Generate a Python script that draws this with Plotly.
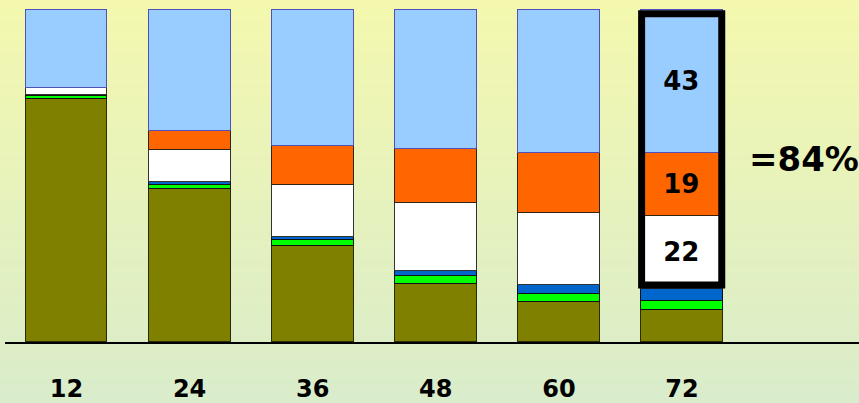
import plotly.graph_objects as go

# ---- data ----
months = ["12", "24", "36", "48", "60", "72"]
olive_vals = [73.3, 46.1, 28.9, 17.4, 12.0, 9.5]
green_vals = [0.7, 1.3, 1.7, 2.4, 2.5, 2.8]
blue_vals = [0.3, 0.7, 1.1, 1.6, 2.8, 3.7]
white_vals = [2.2, 9.6, 15.7, 20.5, 21.6, 22]
orange_vals = [0.0, 5.8, 11.7, 16.3, 18.1, 19]
lightblue_vals = [23.5, 36.5, 40.9, 41.8, 43.0, 43]
highlight_index = 5  # the 72 bar with labelled segments

series = [
    ("olive", olive_vals, "#808000", "#2b2b00", False),
    ("green", green_vals, "#00FF00", "#111111", False),
    ("blue", blue_vals, "#0066CC", "#111111", False),
    ("white", white_vals, "#FFFFFF", "#333333", True),
    ("orange", orange_vals, "#FF6600", "#332211", True),
    ("lightblue", lightblue_vals, "#99CCFF", "#5050B8", True),
]

BAR_W = 0.666
FONT = "DejaVu Sans"
xpos = list(range(len(months)))

fig = go.Figure()
for name, vals, fill, line, labelled in series:
    texts = [""] * len(vals)
    if labelled:
        texts[highlight_index] = f"{vals[highlight_index]:g}"
    fig.add_trace(go.Bar(
        x=xpos, y=vals, name=name, width=BAR_W,
        marker=dict(color=fill, line=dict(color=line, width=1.4)),
        text=texts, textposition="inside", insidetextanchor="middle",
        textfont=dict(family=FONT, size=26, color="black", weight="bold"),
        textangle=0, hoverinfo="skip", showlegend=False,
    ))

# ---- background gradient (style only) ----
top_c = (244, 248, 174)
bot_c = (217, 236, 203)
N = 90
H, MB = 403, 61
PH = H - MB
shapes = []
for i in range(N):
    t = i / (N - 1)
    c = tuple(round(top_c[k] + (bot_c[k] - top_c[k]) * t) for k in range(3))
    ytop_px = H * i / N - 1
    ybot_px = H * (i + 1) / N + 1
    shapes.append(dict(
        type="rect", xref="paper", yref="paper", layer="below",
        x0=-0.02, x1=1.02,
        y0=(PH - ybot_px) / PH, y1=(PH - ytop_px) / PH,
        fillcolor="rgb(%d,%d,%d)" % c, line=dict(width=0),
    ))

# ---- highlight box around labelled segments of last bar ----
base_hl = olive_vals[highlight_index] + green_vals[highlight_index] + blue_vals[highlight_index]
top_hl = base_hl + white_vals[highlight_index] + orange_vals[highlight_index] + lightblue_vals[highlight_index]
hl_sum = white_vals[highlight_index] + orange_vals[highlight_index] + lightblue_vals[highlight_index]
shapes.append(dict(
    type="rect", xref="x", yref="y", layer="above",
    x0=highlight_index - BAR_W / 2 + 0.005, x1=highlight_index + BAR_W / 2 - 0.01,
    y0=base_hl + 1.2, y1=top_hl - 1.1,
    line=dict(color="black", width=7), fillcolor="rgba(0,0,0,0)",
))

fig.update_layout(
    barmode="stack",
    width=859, height=403,
    margin=dict(l=5, r=0, t=0, b=MB, autoexpand=False),
    paper_bgcolor="rgba(0,0,0,0)",
    plot_bgcolor="rgba(0,0,0,0)",
    shapes=shapes,
    bargap=0,
    annotations=[dict(
        x=5.53, y=55, xref="x", yref="y", xanchor="left", yanchor="middle",
        text=f"={hl_sum:g}%", showarrow=False,
        font=dict(family=FONT, size=34, color="black", weight="bold"),
    )],
)
fig.update_xaxes(
    range=[-0.4996, 6.438], tickvals=xpos, ticktext=months,
    showline=True, linecolor="black", linewidth=1.5,
    showgrid=False, zeroline=False, ticks="",
    automargin=False,
    ticklabelstandoff=24,
    tickfont=dict(family=FONT, size=24, color="black", weight="bold"),
)
fig.update_yaxes(range=[0, 103.01], visible=False, showgrid=False, automargin=False)

fig.write_html(
    "out.html",
    config={"displayModeBar": False},
    post_script="document.body.style.margin='0';document.body.style.overflow='hidden';"
                "document.body.style.background='linear-gradient(#f4f8ae,#d9eccb)';",
)
